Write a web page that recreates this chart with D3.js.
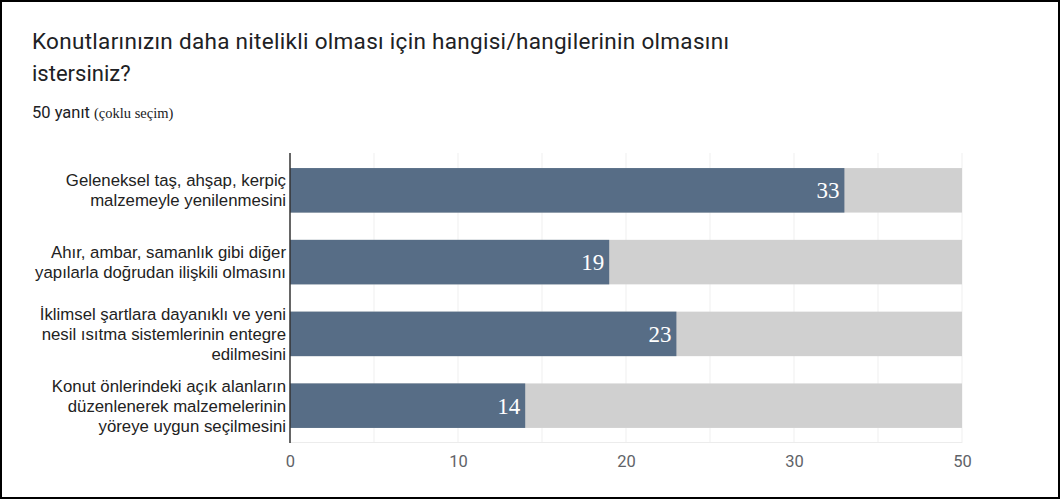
<!DOCTYPE html>
<html>
<head>
<meta charset="utf-8">
<script src="https://cdn.jsdelivr.net/npm/d3@7"></script>
<style>
  body { margin: 0; background: #fff; }
  svg { display: block; }
</style>
</head>
<body>
<div id="chart"></div>
<script>
// Veriler
const categories = [
    ["Geleneksel taş, ahşap, kerpiç", "malzemeyle yenilenmesini"],
    ["Ahır, ambar, samanlık gibi diğer", "yapılarla doğrudan ilişkili olmasını"],
    ["İklimsel şartlara dayanıklı ve yeni", "nesil ısıtma sistemlerinin entegre", "edilmesini"],
    ["Konut önlerindeki açık alanların", "düzenlenerek malzemelerinin", "yöreye uygun seçilmesini"]
];
const values = [33, 19, 23, 14];
// eksen: görseldeki etiketler (son etiket "50" yazıyor)
const tickValues = [0, 10, 20, 30, 40];
const tickLabels = ["0", "10", "20", "30", "50"];
const gridValues = [5, 10, 15, 20, 25, 30, 35, 40];

const width = 1060, height = 499;

const svg = d3.select("#chart")
    .append("svg")
    .attr("width", width)
    .attr("height", height);

// Çerçeve
svg.append("rect")
    .attr("x", 1).attr("y", 1)
    .attr("width", width - 2).attr("height", height - 2)
    .attr("fill", "#fff")
    .attr("stroke", "#000")
    .attr("stroke-width", 2);

// Başlık
svg.append("text")
    .attr("x", 32).attr("y", 49)
    .attr("font-family", "Roboto, sans-serif")
    .attr("font-size", 22.5)
    .attr("letter-spacing", 0.3)
    .attr("fill", "#202124")
    .text("Konutlarınızın daha nitelikli olması için hangisi/hangilerinin olmasını");
svg.append("text")
    .attr("x", 32).attr("y", 81)
    .attr("font-family", "Roboto, sans-serif")
    .attr("font-size", 22)
    .attr("fill", "#202124")
    .text("istersiniz?");

const sub = svg.append("text")
    .attr("x", 32).attr("y", 118)
    .attr("fill", "#202124");
sub.append("tspan")
    .attr("font-family", "Roboto, sans-serif")
    .attr("font-size", 16.5)
    .text("50 yanıt ");
sub.append("tspan")
    .attr("font-family", "'Liberation Serif', serif")
    .attr("font-size", 14.5)
    .text("(çoklu seçim)");

// Ölçekler
const x = d3.scaleLinear().domain([0, 40]).range([290, 962]);
const y = d3.scaleBand()
    .domain(d3.range(values.length))
    .range([153, 443])
    .paddingInner(0.38)
    .paddingOuter(0.21);

// Izgara
svg.append("g")
    .selectAll("line")
    .data(gridValues)
    .join("line")
    .attr("x1", d => x(d)).attr("x2", d => x(d))
    .attr("y1", 153).attr("y2", 443)
    .attr("stroke", "#efefef");
svg.append("line")
    .attr("x1", x(0)).attr("x2", x(40))
    .attr("y1", 442.5).attr("y2", 442.5)
    .attr("stroke", "#ececec");

// Arka plan çubukları
svg.append("g")
    .selectAll("rect")
    .data(values)
    .join("rect")
    .attr("x", x(0))
    .attr("y", (d, i) => y(i))
    .attr("width", x(40) - x(0))
    .attr("height", y.bandwidth())
    .attr("fill", "#d0d0d0");

// Değer çubukları
svg.append("g")
    .selectAll("rect")
    .data(values)
    .join("rect")
    .attr("x", x(0))
    .attr("y", (d, i) => y(i))
    .attr("width", d => x(d) - x(0))
    .attr("height", y.bandwidth())
    .attr("fill", "#576d86");

// Değer etiketleri
svg.append("g")
    .selectAll("text")
    .data(values)
    .join("text")
    .attr("x", d => x(d) - 5)
    .attr("y", (d, i) => y(i) + y.bandwidth() / 2)
    .attr("dy", "0.35em")
    .attr("text-anchor", "end")
    .attr("font-family", "'Liberation Serif', 'Times New Roman', serif")
    .attr("font-size", 23)
    .attr("fill", "#fff")
    .text(d => d);

// Kategori etiketleri
const lineH = 20;
svg.append("g")
    .selectAll("text")
    .data(categories)
    .join("text")
    .attr("text-anchor", "end")
    .attr("font-family", "'Liberation Sans', Arial, sans-serif")
    .attr("font-size", 16.8)
    .attr("fill", "#222")
    .each(function (lines, i) {
        const cy = y(i) + y.bandwidth() / 2;
        const y0 = cy - (lines.length - 1) * lineH / 2;
        d3.select(this).selectAll("tspan")
            .data(lines)
            .join("tspan")
            .attr("x", 286)
            .attr("y", (d, j) => y0 + j * lineH)
            .attr("dy", "0.35em")
            .text(d => d);
    });

// Dikey eksen çizgisi
svg.append("line")
    .attr("x1", x(0)).attr("x2", x(0))
    .attr("y1", 153).attr("y2", 443)
    .attr("stroke", "#333")
    .attr("stroke-width", 1.5);

// X ekseni etiketleri
const xAxis = d3.axisBottom(x)
    .tickValues(tickValues)
    .tickFormat((d, i) => tickLabels[i])
    .tickSize(0)
    .tickPadding(12);

svg.append("g")
    .attr("transform", "translate(0,443)")
    .call(xAxis)
    .call(g => g.select(".domain").remove())
    .call(g => g.selectAll("text")
        .attr("font-family", "Roboto, sans-serif")
        .attr("font-size", 16.5)
        .attr("fill", "#5f6368"));
</script>
</body>
</html>
